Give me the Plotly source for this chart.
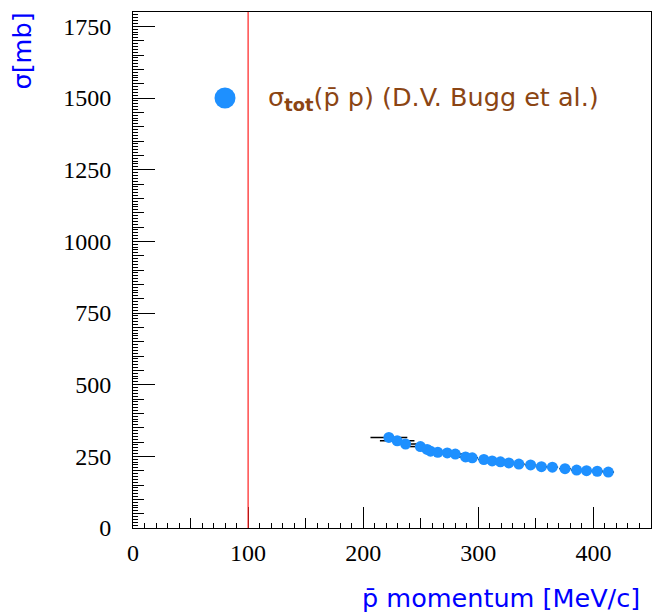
import plotly.graph_objects as go

# ---- data ----
momentum = [222.3, 229.5, 236.8, 249.7, 255.5, 258.5, 264.8, 273.0, 280.0, 288.9,
            294.7, 304.8, 312.0, 319.2, 326.5, 335.2, 345.4, 354.8, 364.3, 375.3,
            385.4, 394.0, 403.3, 412.9]
sigma_tot = [316, 304, 293, 284, 274, 268, 264, 262, 258, 248,
             245, 239, 234, 231, 227, 223, 220, 214, 212, 207,
             202, 200, 198, 195]
momentum_err = [16, 15, 10, 9, 8, 7, 7, 6, 6, 6,
                5, 5, 5, 5, 5, 5, 5, 5, 5, 5,
                5, 5, 5, 5]
threshold_momentum = 100
x_range = [0, 450]
y_range = [0, 1800]
legend_label = "σ<sub><b>tot</b></sub>(p̄ p) (D.V. Bugg et al.)"
x_title = "p̄ momentum [MeV/c]"
y_title = "σ[mb]"

BLUE = "#1E90FF"
BROWN = "#8B4513"
TEXT_FONT = "DejaVu Sans"
TICK_FONT = "Liberation Serif"

W, H = 653, 614
L, R, T, B = 133, 2, 12, 86
PW, PH = W - L - R, H - T - B


def px(xpix):  # window pixel -> paper fraction
    return (xpix - L) / PW


def py(ypix):
    return (H - B - ypix) / PH


fig = go.Figure()
fig.add_trace(go.Scatter(
    x=momentum, y=sigma_tot, mode="markers",
    marker=dict(color=BLUE, size=11, line=dict(width=0)),
    error_x=dict(type="data", array=momentum_err, color="black", thickness=1.5, width=0),
    showlegend=False,
))
# empty trace to host the tertiary-tick axes
fig.add_trace(go.Scatter(x=[], y=[], xaxis="x2", yaxis="y2", showlegend=False))

common = dict(showgrid=False, zeroline=False, ticks="inside", automargin=False)
fig.update_layout(
    width=W, height=H,
    margin=dict(l=L, r=R, t=T, b=B, autoexpand=False),
    paper_bgcolor="white", plot_bgcolor="white",
    xaxis=dict(range=x_range, dtick=100, tick0=0, ticklen=21, tickwidth=1, tickcolor="black",
               showline=True, linecolor="black", linewidth=1, mirror=True,
               minor=dict(dtick=50, ticklen=10, tickcolor="black", ticks="inside"),
               tickfont=dict(family=TICK_FONT, size=24, color="black"),
               ticklabelstandoff=3, **common),
    yaxis=dict(range=y_range, dtick=250, tick0=0, ticklen=22, tickwidth=1, tickcolor="black",
               showline=True, linecolor="black", linewidth=1, mirror=True,
               minor=dict(dtick=50, ticklen=11, tickcolor="black", ticks="inside"),
               tickfont=dict(family=TICK_FONT, size=24, color="black"),
               ticklabelstandoff=16, **common),
    xaxis2=dict(range=x_range, dtick=10, tick0=0, ticklen=5, tickcolor="black",
                overlaying="x", anchor="y2", side="bottom", showticklabels=False,
                showline=False, **common),
    yaxis2=dict(range=y_range, dtick=10, tick0=0, ticklen=5, tickcolor="black",
                overlaying="y", anchor="x2", side="left", showticklabels=False,
                showline=False, **common),
    shapes=[
        dict(type="line", xref="x", yref="paper", x0=threshold_momentum, x1=threshold_momentum,
             y0=0, y1=1, line=dict(color="#FF2020", width=1.2)),
        dict(type="circle", xref="paper", yref="paper",
             x0=px(214.5), x1=px(235.5), y0=py(108.5), y1=py(87.5),
             fillcolor=BLUE, line=dict(width=0)),
    ],
    annotations=[
        dict(text=legend_label, xref="paper", yref="paper",
             x=px(266), y=py(99), xanchor="left", yanchor="middle",
             showarrow=False, font=dict(family=TEXT_FONT, size=25.5, color=BROWN)),
        dict(text=x_title, xref="paper", yref="paper",
             x=px(641), y=py(598), xanchor="right", yanchor="middle", borderpad=0,
             showarrow=False, font=dict(family=TEXT_FONT, size=25.5, color="blue")),
        dict(text=y_title, xref="paper", yref="paper", textangle=-90,
             x=px(21), y=py(12), xanchor="center", yanchor="top", borderpad=0,
             showarrow=False, font=dict(family=TEXT_FONT, size=25.5, color="blue")),
    ],
)

fig.write_html(
    "out.html",
    config={"displayModeBar": False},
    post_script="document.body.style.margin='0';document.body.style.overflow='hidden';",
)
